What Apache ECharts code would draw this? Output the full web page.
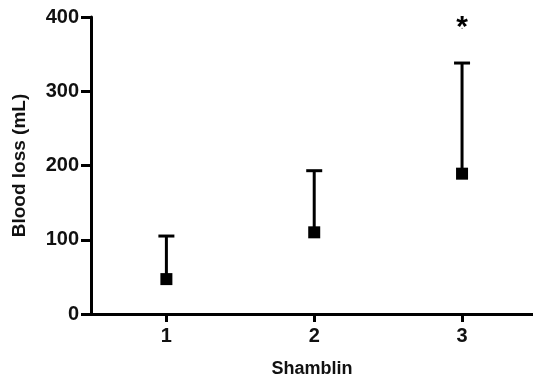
<!DOCTYPE html>
<html>
<head>
<meta charset="utf-8">
<script src="https://cdn.jsdelivr.net/npm/echarts@6/dist/echarts.min.js"></script>
<style>
  html, body { margin: 0; padding: 0; background: #fff; }
  #chart { width: 533px; height: 384px; }
</style>
</head>
<body>
<div id="chart"></div>
<script>
// groups on the x axis
var groups = [1, 2, 3];
// mean blood loss and upper end of the error bar
var means = [47, 110, 189];
var upper = [105, 193, 338];
// significance marker
var starGroup = 3;
var starValue = 385;

var myChart = echarts.init(document.getElementById("chart"));

var fontFam = "Liberation Sans, Arial, sans-serif";

var option = {
  animation: false,
  grid: { left: 91, right: 0, top: 17, bottom: 70 },
  xAxis: {
    type: "value",
    min: 0.49,
    max: 3.48,
    name: "Shamblin",
    nameLocation: "middle",
    nameGap: 46,
    nameTextStyle: { fontFamily: fontFam, fontWeight: "bold", fontSize: 18, color: "#111" },
    axisLine: { lineStyle: { color: "#000", width: 3 } },
    axisTick: {
      length: 8,
      lineStyle: { width: 3, color: "#000" },
      customValues: groups
    },
    axisLabel: {
      customValues: groups,
      margin: 12,
      fontFamily: fontFam,
      fontWeight: "bold",
      fontSize: 20,
      color: "#111"
    },
    splitLine: { show: false }
  },
  yAxis: {
    type: "value",
    min: 0,
    max: 400,
    interval: 100,
    name: "Blood loss (mL)",
    nameLocation: "middle",
    nameGap: 62,
    nameTextStyle: { fontFamily: fontFam, fontWeight: "bold", fontSize: 19, color: "#111" },
    axisLine: { show: true, lineStyle: { color: "#000", width: 3 } },
    axisTick: { show: true, length: 10, lineStyle: { width: 3, color: "#000" } },
    axisLabel: {
      margin: 12,
      fontFamily: fontFam,
      fontWeight: "bold",
      fontSize: 20,
      color: "#111"
    },
    splitLine: { show: false }
  },
  series: [
    {
      type: "custom",
      data: groups.map(function (g, i) { return [g, means[i], upper[i]]; }),
      renderItem: function (params, api) {
        var base = api.coord([api.value(0), api.value(1)]);
        var top = api.coord([api.value(0), api.value(2)]);
        var half = 8;
        var style = { stroke: "#000", lineWidth: 3 };
        return {
          type: "group",
          children: [
            { type: "line", shape: { x1: base[0], y1: base[1], x2: top[0], y2: top[1] }, style: style },
            { type: "line", shape: { x1: top[0] - half, y1: top[1], x2: top[0] + half, y2: top[1] }, style: style }
          ]
        };
      },
      z: 2
    },
    {
      type: "scatter",
      data: groups.map(function (g, i) { return [g, means[i]]; }),
      symbol: "rect",
      symbolSize: 12,
      itemStyle: { color: "#000", opacity: 1 },
      z: 3
    },
    {
      type: "scatter",
      data: [[starGroup, starValue]],
      symbolSize: 1,
      itemStyle: { color: "#000", opacity: 1 },
      label: {
        show: true,
        position: "inside",
        formatter: "*",
        fontFamily: fontFam,
        fontWeight: "bold",
        fontSize: 30,
        color: "#000"
      }
    }
  ]
};

myChart.setOption(option);
</script>
</body>
</html>
